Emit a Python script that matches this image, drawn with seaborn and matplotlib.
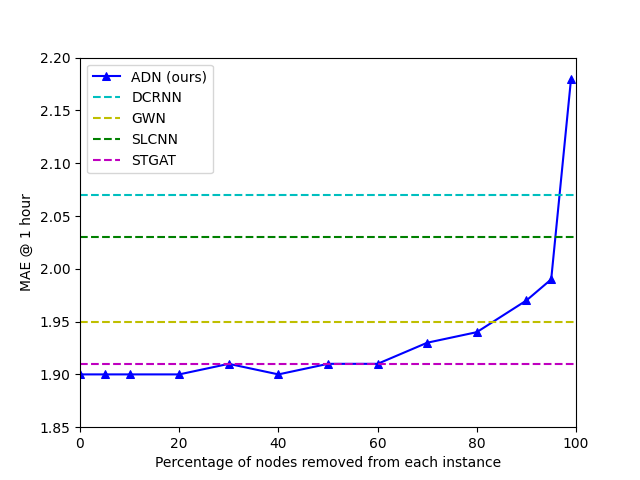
import matplotlib
matplotlib.use("Agg")
import matplotlib.pyplot as plt
import seaborn as sns

## Data ##
pct_removed = [0, 5, 10, 20, 30, 40, 50, 60, 70, 80, 90, 95, 99]
adn_mae = [1.90, 1.90, 1.90, 1.90, 1.91, 1.90, 1.91, 1.91, 1.93, 1.94, 1.97, 1.99, 2.18]

baseline_names = ["DCRNN", "GWN", "SLCNN", "STGAT"]
baseline_mae = [2.07, 1.95, 2.03, 1.91]
baseline_colors = ["c", "y", "g", "m"]

fig, ax = plt.subplots(figsize=(6.4, 4.8), dpi=100)

sns.lineplot(x=pct_removed, y=adn_mae, ax=ax, color="b", marker="^",
             markersize=6, markeredgecolor="b", label="ADN (ours)")

for name, val, col in zip(baseline_names, baseline_mae, baseline_colors):
    ax.axhline(val, color=col, linestyle="--", label=name)

ax.set_xlim(0, 100)
ax.set_ylim(1.85, 2.20)
ax.set_xlabel("Percentage of nodes removed from each instance")
ax.set_ylabel("MAE @ 1 hour")
ax.legend(loc="upper left")

fig.savefig("out.png", dpi=100)
